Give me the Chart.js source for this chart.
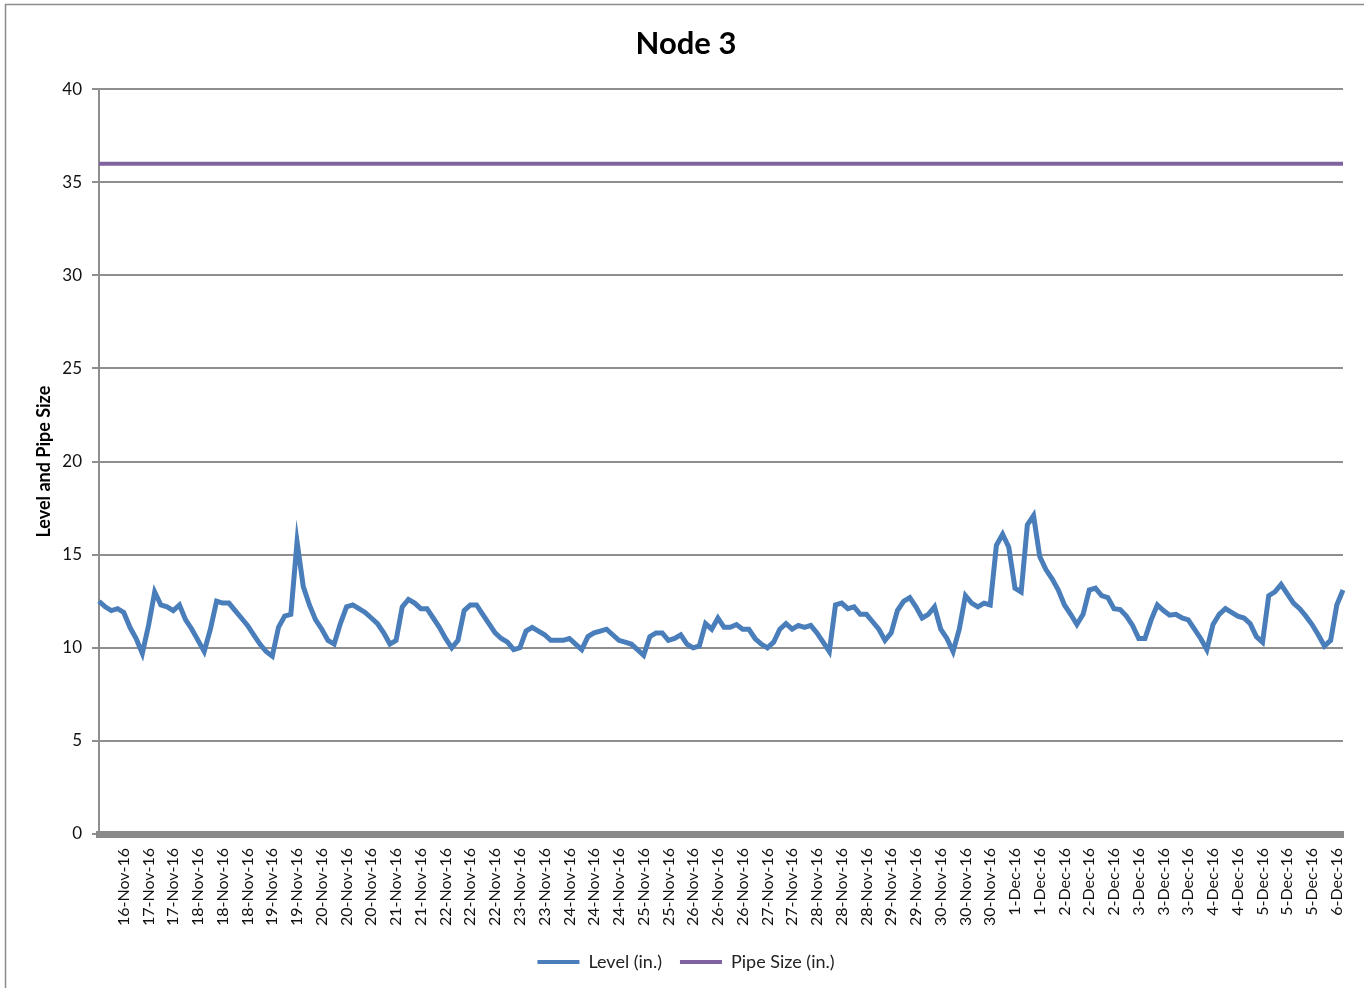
<!DOCTYPE html>
<html>
<head>
<meta charset="utf-8">
<title>Node 3</title>
<script src="https://cdn.jsdelivr.net/npm/chart.js@4.4.1/dist/chart.umd.min.js"></script>
<style>
  body { margin: 0; background: #fff; }
  #wrap { width: 1364px; height: 988px; }
</style>
</head>
<body>
<div id="wrap"><canvas id="node3"></canvas></div>
<script>
// tick labels shown along the bottom (one every 4 readings)
const tickLabels = [
  '16-Nov-16', '17-Nov-16', '17-Nov-16', '18-Nov-16', '18-Nov-16', '18-Nov-16',
  '19-Nov-16', '19-Nov-16', '20-Nov-16', '20-Nov-16', '20-Nov-16', '21-Nov-16',
  '21-Nov-16', '22-Nov-16', '22-Nov-16', '22-Nov-16', '23-Nov-16', '23-Nov-16',
  '24-Nov-16', '24-Nov-16', '24-Nov-16', '25-Nov-16', '25-Nov-16', '26-Nov-16',
  '26-Nov-16', '26-Nov-16', '27-Nov-16', '27-Nov-16', '28-Nov-16', '28-Nov-16',
  '28-Nov-16', '29-Nov-16', '29-Nov-16', '30-Nov-16', '30-Nov-16', '30-Nov-16',
  '1-Dec-16', '1-Dec-16', '2-Dec-16', '2-Dec-16', '2-Dec-16', '3-Dec-16',
  '3-Dec-16', '3-Dec-16', '4-Dec-16', '4-Dec-16', '5-Dec-16', '5-Dec-16',
  '5-Dec-16', '6-Dec-16'
];

// Level (in.) readings
const level = [
  12.5, 12.2, 12.0, 12.1, 11.9, 11.1, 10.5, 9.7, 11.2, 13.0,
  12.3, 12.2, 12.0, 12.3, 11.5, 11.0, 10.4, 9.8, 11.0, 12.5,
  12.4, 12.4, 12.0, 11.6, 11.2, 10.7, 10.2, 9.8, 9.55, 11.1,
  11.7, 11.8, 15.7, 13.3, 12.3, 11.5, 11.0, 10.4, 10.2, 11.3,
  12.2, 12.3, 12.1, 11.9, 11.6, 11.3, 10.8, 10.2, 10.4, 12.2,
  12.6, 12.4, 12.1, 12.1, 11.6, 11.1, 10.5, 10.0, 10.4, 12.0,
  12.3, 12.3, 11.8, 11.3, 10.8, 10.5, 10.3, 9.9, 10.0, 10.9,
  11.1, 10.9, 10.7, 10.4, 10.4, 10.4, 10.5, 10.2, 9.9, 10.6,
  10.8, 10.9, 11.0, 10.7, 10.4, 10.3, 10.2, 9.9, 9.6, 10.6,
  10.8, 10.8, 10.4, 10.5, 10.7, 10.2, 10.0, 10.1, 11.3, 11.0,
  11.6, 11.1, 11.1, 11.25, 11.0, 11.0, 10.5, 10.2, 10.0, 10.3,
  11.0, 11.3, 11.0, 11.2, 11.1, 11.2, 10.8, 10.3, 9.8, 12.3,
  12.4, 12.1, 12.2, 11.8, 11.8, 11.4, 11.0, 10.4, 10.8, 12.0,
  12.5, 12.7, 12.2, 11.6, 11.8, 12.2, 11.0, 10.5, 9.8, 11.0,
  12.8, 12.4, 12.2, 12.4, 12.3, 15.5, 16.1, 15.4, 13.2, 13.0,
  16.6, 17.1, 14.9, 14.2, 13.7, 13.1, 12.3, 11.8, 11.25, 11.8,
  13.1, 13.2, 12.8, 12.7, 12.1, 12.05, 11.7, 11.2, 10.5, 10.5,
  11.5, 12.3, 12.0, 11.75, 11.8, 11.6, 11.5, 11.0, 10.5, 9.9,
  11.25, 11.8, 12.1, 11.9, 11.7, 11.6, 11.3, 10.6, 10.3, 12.8,
  13.0, 13.4, 12.9, 12.4, 12.1, 11.7, 11.25, 10.7, 10.1, 10.4,
  12.3, 13.1
];

// Pipe Size (in.) is flat for the whole period
const pipeSizeIn = 36;

const yTicks = [0, 5, 10, 15, 20, 25, 30, 35, 40];

const labels = level.map((v, i) => (i >= 4 && i % 4 === 0) ? tickLabels[i / 4 - 1] : '');
const pipeSize = level.map(() => pipeSizeIn);

const FONT = 'Lato, "Open Sans", "Liberation Sans", sans-serif';
const GRID = '#8e8e8e';

// grey frame round the whole chart, like the Excel chart area border
const framePlugin = {
  id: 'frame',
  beforeDraw(chart) {
    const c = chart.ctx;
    c.save();
    c.fillStyle = '#fff';
    c.fillRect(0, 0, chart.width, chart.height);
    c.strokeStyle = '#8c8c8c';
    c.lineWidth = 1.5;
    c.strokeRect(5.5, 4.5, chart.width + 20, chart.height + 20);
    c.restore();
  }
};

const ctx = document.getElementById('node3').getContext('2d');
const chart = new Chart(ctx, {
  type: 'line',
  data: {
    labels: labels,
    datasets: [{
      label: 'Level (in.)',
      data: level,
      borderColor: '#4a7ebb',
      backgroundColor: '#4a7ebb',
      borderWidth: 5,
      pointRadius: 0,
      tension: 0
    }, {
      label: 'Pipe Size (in.)',
      data: pipeSize,
      borderColor: '#7f63a1',
      backgroundColor: '#7f63a1',
      borderWidth: 4,
      pointRadius: 0,
      tension: 0
    }]
  },
  options: {
    responsive: true,
    maintainAspectRatio: false,
    animation: false,
    layout: { padding: { left: 29, right: 21, top: 0, bottom: 7 } },
    plugins: {
      title: {
        display: true,
        text: 'Node 3',
        color: '#000',
        font: { family: FONT, size: 31, weight: 'bold' },
        padding: { top: 25, bottom: 27 }
      },
      legend: {
        position: 'bottom',
        labels: {
          color: '#222',
          font: { family: FONT, size: 18 },
          boxWidth: 42,
          boxHeight: 4,
          padding: 18,
          generateLabels: (ch) => Chart.defaults.plugins.legend.labels.generateLabels(ch)
            .map(item => ({ ...item, lineWidth: 0 }))
        }
      },
      tooltip: { enabled: false }
    },
    scales: {
      x: {
        grid: { display: false, drawTicks: false },
        border: { display: true, color: '#898989', width: 7 },
        ticks: {
          autoSkip: false,
          minRotation: 90,
          maxRotation: 90,
          padding: 14,
          color: '#111',
          font: { family: FONT, size: 16 }
        },
        afterFit: (s) => {
          s.height = 101;
          s.paddingLeft = 0;
          s.paddingRight = 0;
        }
      },
      y: {
        min: 0,
        max: 40,
        afterBuildTicks: (s) => { s.ticks = yTicks.map(v => ({ value: v })); },
        grid: { color: GRID, lineWidth: 2, tickLength: 7, tickColor: GRID },
        border: { display: true, color: GRID, width: 2 },
        ticks: {
          padding: 10,
          color: '#111',
          font: { family: FONT, size: 17 }
        },
        title: {
          display: true,
          text: 'Level and Pipe Size',
          color: '#000',
          font: { family: FONT, size: 18, weight: 'bold' },
          padding: { top: 4, bottom: 0 }
        },
        afterFit: (s) => { s.width = 70; }
      }
    }
  },
  plugins: [framePlugin]
});
</script>
</body>
</html>
